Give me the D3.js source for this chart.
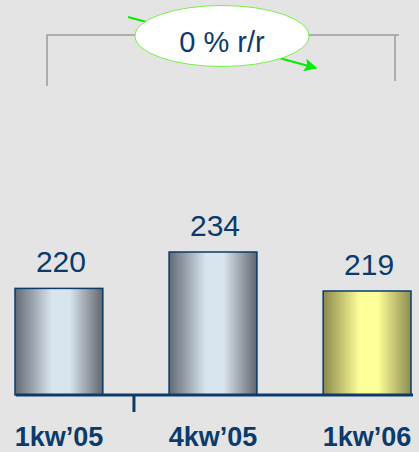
<!DOCTYPE html>
<html>
<head>
<meta charset="utf-8">
<script src="https://cdn.jsdelivr.net/npm/d3@7"></script>
<style>
  body { margin: 0; background: #e4e4e4; }
  svg { display: block; font-family: "Liberation Sans", Arial, sans-serif; }
</style>
</head>
<body>
<div id="chart"></div>
<script>
// data
const quarters = ["1kw\u201905", "4kw\u201905", "1kw\u201906"];
const values = [220, 234, 219];
const barFills = ["grey", "grey", "yellow"];
const changeLabel = "0 % r/r";

const width = 419, height = 452;
const navy = "#0b3a6b";

const svg = d3.select("#chart")
              .append("svg")
              .attr("width", width)
              .attr("height", height);

// gradients for the bars
const defs = svg.append("defs");
function addGradient(id, edge, mid){
  const g = defs.append("linearGradient")
                .attr("id", id)
                .attr("x1", "0%").attr("x2", "100%")
                .attr("y1", "0%").attr("y2", "0%");
  g.append("stop").attr("offset", "0%").attr("stop-color", edge[0]);
  g.append("stop").attr("offset", "42%").attr("stop-color", mid);
  g.append("stop").attr("offset", "62%").attr("stop-color", mid);
  g.append("stop").attr("offset", "100%").attr("stop-color", edge[1]);
}
addGradient("grey", ["#636a74", "#62666e"], "#d9e5ee");
addGradient("yellow", ["#8a8a4c", "#8c8c52"], "#ffff99");

const arrowMarker = defs.append("marker")
                        .attr("id", "arrow")
                        .attr("viewBox", "0 0 10 10")
                        .attr("refX", 9).attr("refY", 5)
                        .attr("markerWidth", 18).attr("markerHeight", 13)
                        .attr("markerUnits", "userSpaceOnUse")
                        .attr("orient", "auto");
arrowMarker.append("path")
           .attr("d", "M0,0 L10,5 L0,10 L2,5 Z")
           .attr("fill", "#00ee00");

// scales
const x = d3.scaleBand()
            .domain(quarters)
            .range([15, 411])
            .paddingInner(0.43)
            .paddingOuter(0);

const y = d3.scaleLinear()
            .domain([179, 240])
            .range([395, 236.4]);

// bars
svg.selectAll("rect.bar")
   .data(values)
   .enter()
   .append("rect")
   .attr("class", "bar")
   .attr("x", (d, i) => x(quarters[i]))
   .attr("y", (d) => y(d))
   .attr("width", x.bandwidth())
   .attr("height", (d) => y(179) - y(d))
   .attr("fill", (d, i) => "url(#" + barFills[i] + ")")
   .attr("stroke", navy)
   .attr("stroke-width", 1.5);

// value labels
svg.selectAll("text.value")
   .data(values)
   .enter()
   .append("text")
   .attr("class", "value")
   .attr("x", (d, i) => x(quarters[i]) + x.bandwidth() / 2 + 2)
   .attr("y", (d) => y(d) - 16)
   .attr("text-anchor", "middle")
   .attr("font-size", 30)
   .attr("fill", navy)
   .text((d) => d);

// x axis
const xAxis = d3.axisBottom(x).tickSize(0).tickPadding(32);
const axisG = svg.append("g")
                 .attr("id", "x-axis")
                 .attr("transform", "translate(0," + y(179) + ")")
                 .call(xAxis);
axisG.select(".domain")
     .attr("stroke", navy)
     .attr("stroke-width", 3)
     .attr("d", "M" + (x.range()[0] + 1) + ",0H" + (x.range()[1] + 2));
axisG.selectAll(".tick text")
     .attr("font-family", "Liberation Sans, Arial, sans-serif")
     .attr("font-size", 27)
     .attr("font-weight", "bold")
     .attr("fill", navy);

// single separator tick between first and second quarter
const sepX = (x(quarters[0]) + x.bandwidth() + x(quarters[1])) / 2 - 2;
axisG.append("line")
     .attr("x1", sepX).attr("x2", sepX)
     .attr("y1", 0).attr("y2", 17)
     .attr("stroke", navy)
     .attr("stroke-width", 3);

// bracket connecting first and last bar
const bx1 = x(quarters[0]) + 32, bx2 = x(quarters[2]) + x.bandwidth() - 16;
svg.append("path")
   .attr("d", "M" + bx1 + ",86V35H" + (bx2 + 4) + "M" + bx2 + ",35V81")
   .attr("fill", "none")
   .attr("stroke", "#9a9a9a")
   .attr("stroke-width", 1.5);

// green arrow behind the label
svg.append("line")
   .attr("x1", 128).attr("y1", 17)
   .attr("x2", 316).attr("y2", 68)
   .attr("stroke", "#00ee00")
   .attr("stroke-width", 2)
   .attr("marker-end", "url(#arrow)");

// change label
svg.append("ellipse")
   .attr("cx", 222).attr("cy", 36)
   .attr("rx", 87).attr("ry", 30.5)
   .attr("fill", "#ffffff")
   .attr("stroke", "#77ee44")
   .attr("stroke-width", 1);

svg.append("text")
   .attr("x", 222)
   .attr("y", 51.5)
   .attr("text-anchor", "middle")
   .attr("font-size", 29)
   .attr("fill", navy)
   .text(changeLabel);
</script>
</body>
</html>
